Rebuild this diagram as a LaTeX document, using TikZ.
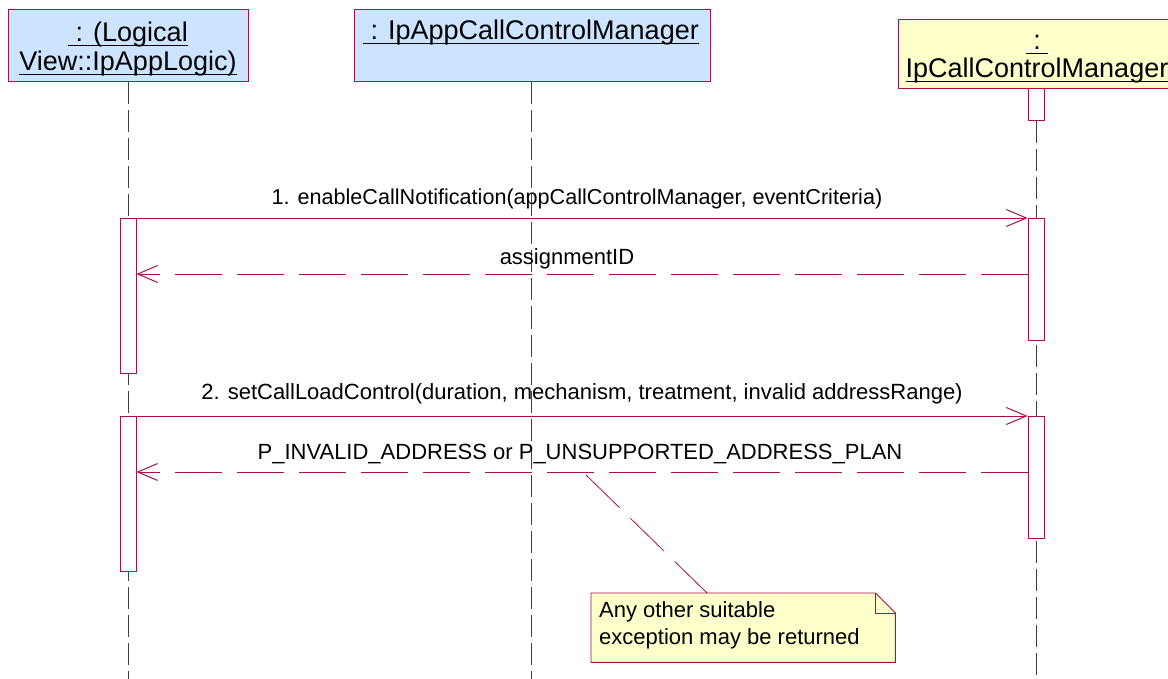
\documentclass[tikz,border=0pt]{standalone}
\usepackage{fontspec}
\setmainfont{Liberation Sans}
\usetikzlibrary{arrows.meta,calc}
\definecolor{umlred}{HTML}{A8124A}
\definecolor{objblue}{HTML}{CCE4FF}
\definecolor{noteyel}{HTML}{FFFFCC}
\newcommand{\ulin}[1]{\setbox0=\hbox{#1}\rlap{\rule[-4.5pt]{\wd0}{1.3pt}}\box0}
\begin{document}
\begin{tikzpicture}[x=1pt,y=-1pt,
  obj/.style={draw=umlred, line width=1pt, fill=objblue, inner sep=0pt},
  lifeline/.style={draw=black!75, line width=0.9pt, dash pattern=on 22pt off 6pt},
  act/.style={draw=umlred, fill=white, line width=0.9pt, minimum width=16pt, inner sep=0pt},
  msg/.style={draw=umlred, line width=0.9pt, -{Straight Barb[length=20pt,width=17pt,line width=1pt]}},
  ret/.style={msg, dash pattern=on 47pt off 15pt},
  lbl/.style={font=\fontsize{22}{27}\selectfont, inner sep=0pt},
  title/.style={font=\fontsize{27}{32}\selectfont, inner sep=0pt, anchor=base}]
\useasboundingbox (0,0) rectangle (1168,679);
% objects
\node[obj, minimum width=240pt, minimum height=72pt] (A) at (128,46) {};
\node[title] (At1) at (128,42) {\ulin{\ : (Logical}};
\node[title] (At2) at (128,70.5) {\ulin{View::IpAppLogic)}};
\node[obj, minimum width=356pt, minimum height=72pt] (B) at (532,46) {};
\node[title] (Bt) at (531,40) {\ulin{\ : IpAppCallControlManager}};
\node[obj, fill=noteyel, minimum width=280pt, minimum height=69pt] (C) at (1038,54.5) {};
\node[title] (Ct1) at (1037,50) {\ulin{\ :\ }};
\node[title] (Ct2) at (1037,78) {\ulin{IpCallControlManager}};
% small activation on right
\node[act, minimum height=32pt, anchor=north] (C0) at (1036,88) {};
% lifelines
\draw[lifeline] (A.south) -- (A.south |- 0,679);
\draw[lifeline] (B.south -| 531,0) -- (531,679);
\draw[lifeline] (C0.south) -- (C0.south |- 0,679);
% activations
\node[act, minimum height=155pt, anchor=north] (A1) at (128,218) {};
\node[act, minimum height=122pt, anchor=north] (C1) at (1036,218) {};
\node[act, minimum height=155pt, anchor=north] (A2) at (128,416) {};
\node[act, minimum height=122pt, anchor=north] (C2) at (1036,416) {};
% messages
\draw[msg] (A1.north east) -- node[lbl, font=\fontsize{21.6}{27}\selectfont, above=9pt, xshift=-5pt] (m1) {1. enableCallNotification(appCallControlManager, eventCriteria)} (C1.north west);
\coordinate (r1) at (C1.west |- 0,274);
\draw[ret] (r1) -- node[lbl, above=4pt, xshift=-15pt] (m1r) {assignmentID} (A1.east |- r1);
\draw[msg] (A2.north east) -- node[lbl, above=11pt] (m2) {2. setCallLoadControl(duration, mechanism, treatment, invalid addressRange)} (C2.north west);
\coordinate (r2) at (C2.west |- 0,472);
\draw[ret] (r2) -- node[lbl, above=8pt, xshift=-2pt] (m2r) {P\_INVALID\_ADDRESS or P\_UNSUPPORTED\_ADDRESS\_PLAN} (A2.east |- r2);
% note
\node[inner sep=0pt, minimum width=304pt, minimum height=69pt, anchor=north west] (N) at (591,593) {};
\draw[umlred, fill=noteyel, line width=0.9pt] (N.north west) -- ($(N.north east)+(-20,0)$) -- ($(N.north east)+(0,20)$) -- (N.south east) -- (N.south west) -- cycle;
\draw[umlred, line width=0.9pt] ($(N.north east)+(-20,0)$) -- ($(N.north east)+(-20,20)$) -- ($(N.north east)+(0,20)$);
\node[lbl, align=left, anchor=north west] (Nt) at (599,601) {Any other suitable\\exception may be returned};
\coordinate (na) at (586,475);
\draw[umlred, line width=0.8pt, dash pattern=on 47pt off 15pt] (na) -- ($(N.north west)+(116,0)$);
\end{tikzpicture}
\end{document}
